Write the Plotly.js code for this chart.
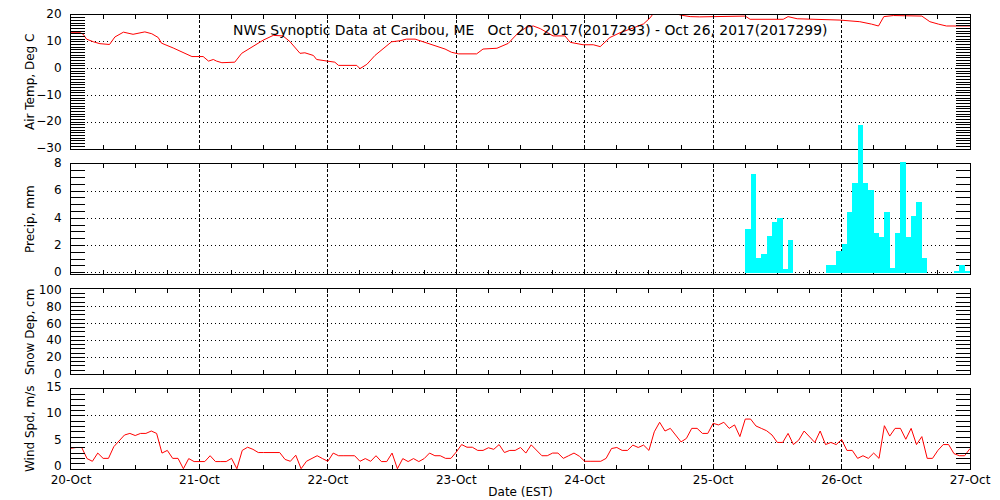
<!DOCTYPE html>
<html>
<head>
<meta charset="utf-8">
<script src="https://cdn.plot.ly/plotly-3.0.1.min.js"></script>
<style>html,body{margin:0;padding:0;background:#fff;}#chart{width:1000px;height:500px;}</style>
</head>
<body>
<div id="chart"></div>
<script>
// ---- Data (hours since 20-Oct-2017 00:00 EST) ----
const dayTickHours = [0, 24, 48, 72, 96, 120, 144, 168];
const dayTickLabels = ["20-Oct", "21-Oct", "22-Oct", "23-Oct", "24-Oct", "25-Oct", "26-Oct", "27-Oct"];

const tempHours = [0, 1.7, 2.3, 2.9, 4.2, 5.4, 7.2, 8.2, 9.8, 11.6, 13.8, 15.1, 16.3, 16.9, 19.1, 21, 22.6, 24.7, 25.7, 26.6, 27.2, 28.2, 30.6, 31.9, 34.1, 35.9, 37.8, 39.6, 40.9, 42.8, 43.7, 45.3, 45.9, 47.8, 49.3, 50, 53.4, 54, 55.3, 56.8, 58.4, 59.9, 61.5, 62.7, 64.3, 65.8, 67.1, 68.6, 69.9, 71.1, 72.4, 75.8, 77, 79.6, 81.7, 83.6, 85.2, 86.4, 87.7, 90.1, 92.3, 93.3, 95.7, 97.6, 98.9, 100.7, 102.6, 105.1, 107, 108.2, 108.8, 110, 112, 113.8, 115.7, 117.5, 120, 121.3, 126, 126.9, 133.1, 134, 135.7, 143.7, 147.4, 149.6, 150.9, 151.9, 153.7, 159, 160.5, 162.1, 163.6, 168];
const tempValues = [13.4, 13.4, 12.8, 11, 10, 9.3, 9.0, 11.8, 13.6, 12.8, 13.7, 13, 11.6, 9.5, 7.7, 6.1, 4.5, 4.5, 2.8, 3.4, 2.8, 2.2, 2.4, 5.7, 8.5, 10.6, 12.4, 12.2, 10.1, 5.7, 5.9, 4.9, 3.4, 2.8, 2.4, 1.2, 1.2, 0, 1.6, 4.9, 7.6, 10, 10.4, 11, 11, 10, 9.1, 8.2, 7.3, 6.1, 5.5, 5.5, 7.3, 7.6, 9.4, 13.4, 15.5, 15.9, 14.9, 12.2, 12.2, 9.8, 8.9, 8.9, 8.2, 11.6, 13.4, 15.2, 16.7, 18.9, 20.5, 22, 22, 20, 19.4, 19.3, 19.4, 19.6, 19.6, 18.4, 18.4, 19.4, 18.6, 18.1, 17.5, 16.6, 15.9, 19.4, 19.8, 19.6, 17.5, 16.6, 15.9, 15.9];

const precipHours = [126, 127, 128, 129, 130, 131, 132, 133, 134, 141, 142, 143, 144, 145, 146, 147, 148, 149, 150, 151, 152, 153, 154, 155, 156, 157, 158, 159, 165, 166, 167];
const precipValues = [3.2, 7.3, 1.1, 1.4, 2.7, 3.7, 4.0, 0.3, 2.4, 0.6, 0.6, 1.6, 2.1, 4.5, 6.6, 10.9, 6.6, 6.05, 2.9, 2.65, 4.5, 0.35, 2.9, 8.15, 2.65, 4.2, 5.2, 1.1, 0.1, 0.55, 0.1];

const snowHours = [];
const snowValues = [];

const windHours = [];
for (let h = 0; h <= 168; h++) windHours.push(h);
const windValues = [3.9, 4.05, 4.05, 1.96, 1.45, 3.0, 2.0, 2.0, 4.2, 5.25, 6.4, 6.7, 6.3, 6.7, 6.7, 7.15, 6.7, 3.0, 3.5, 2.0, 2.0, 0.05, 1.96, 1.4,
  1.4, 1.4, 2.5, 1.4, 1.4, 1.4, 2.0, 0.05, 3.5, 4.1, 3.7, 3.1, 3.1, 3.1, 3.1, 3.1, 1.8, 1.45, 2.6, 0.05, 1.45, 1.96, 2.5, 1.96,
  1.45, 3.0, 2.5, 2.5, 2.5, 2.5, 1.45, 1.96, 1.45, 2.5, 1.4, 1.4, 3.0, 0.05, 1.96, 1.4, 1.96, 1.4, 1.96, 3.0, 2.5, 2.5, 2.0, 2.0,
  3.2, 4.6, 4.1, 4.1, 3.5, 3.5, 4.0, 3.7, 4.6, 3.1, 3.5, 3.5, 4.05, 3.0, 4.55, 3.5, 2.5, 2.5, 3.0, 3.0, 2.0, 2.5, 3.0, 2.4,
  1.45, 1.45, 1.45, 1.45, 2.0, 3.85, 4.05, 3.5, 3.5, 4.5, 4.05, 4.5, 3.5, 7.0, 8.8, 7.15, 7.65, 6.3, 5.1, 5.75, 7.65, 7.65, 6.7, 6.7,
  8.6, 8.3, 8.8, 7.65, 8.3, 6.1, 9.4, 9.4, 8.1, 7.65, 7.2, 6.4, 5.0, 5.0, 6.7, 4.6, 5.45, 7.15, 6.1, 5.0, 7.15, 4.6, 5.0, 4.6,
  5.55, 3.5, 3.5, 2.0, 2.5, 2.0, 3.0, 2.0, 8.15, 6.2, 7.65, 7.65, 5.6, 7.65, 4.6, 6.1, 2.0, 2.0, 3.5, 4.6, 4.6, 2.9, 2.5, 2.5,
  3.85];

const titleText = "NWS Synoptic Data at Caribou, ME\u00a0\u00a0\u00a0Oct 20, 2017(2017293) - Oct 26, 2017(2017299)";
const panelTitles = ["Air Temp, Deg C", "Precip, mm", "Snow Dep, cm", "Wind Spd, m/s"];

// ---- Layout ----
const FONT = {family: "DejaVu Sans, sans-serif", size: 12, color: "#000"};
const H0 = 0, H1 = 168;

function xAxis(anchor, showLabels) {
  return {
    anchor: anchor, range: [H0, H1], domain: [0, 1],
    tickmode: "array", tickvals: dayTickHours, ticktext: dayTickLabels,
    showticklabels: showLabels, ticks: "inside", ticklen: 4, tickcolor: "#000",
    minor: {dtick: 6, tick0: 0, ticks: "inside", ticklen: 4, tickcolor: "#000", showgrid: false},
    showline: true, linecolor: "#000", linewidth: 1, mirror: "allticks",
    showgrid: true, gridcolor: "#000", gridwidth: 1, griddash: "3px,2px",
    zeroline: false, tickfont: FONT, ticklabelstandoff: 0
  };
}
function yAxis(anchor, domain, range, dtick, minorDtick, shift) {
  return {
    anchor: anchor, domain: domain, range: range, dtick: dtick, tick0: 0,
    ticks: "inside", ticklen: 14, tickcolor: "#000",
    minor: {dtick: minorDtick, tick0: 0, ticks: "inside", ticklen: 14, tickcolor: "#000", showgrid: false},
    showline: true, linecolor: "#000", linewidth: 1, mirror: "allticks",
    showgrid: true, gridcolor: "#000", gridwidth: 1, griddash: "1px,3px",
    zeroline: false, tickfont: FONT, ticklabelstandoff: 6, ticklabelshift: shift || 0
  };
}

const dTemp = [0.7048, 1.0];
const dPrecip = [0.4295, 0.6718];
const dSnow = [0.2086, 0.3958];
const dWind = [0.0, 0.1755];
const precipMin = -0.096, precipMax = 8;
// overflow axis for precip bars (same scale, taller domain so tall bars are not cut)
const overTop = 0.7797;
const precipOverMax = precipMin + (precipMax - precipMin) * (overTop - dPrecip[0]) / (dPrecip[1] - dPrecip[0]);

const traces = [
  {x: tempHours, y: tempValues, xaxis: "x4", yaxis: "y4", type: "scatter", mode: "lines",
   line: {color: "#ff0000", width: 1}},
  {x: [], y: [], xaxis: "x3", yaxis: "y3", type: "scatter", mode: "lines"},
  {x: precipHours, y: precipValues, xaxis: "x5", yaxis: "y5", type: "bar",
   offset: 0, width: 1, marker: {color: "#00ffff", line: {width: 0}}},
  {x: snowHours, y: snowValues, xaxis: "x2", yaxis: "y2", type: "scatter", mode: "lines",
   line: {color: "#ff0000", width: 1}},
  {x: windHours, y: windValues, xaxis: "x", yaxis: "y", type: "scatter", mode: "lines",
   line: {color: "#ff0000", width: 1}}
];

const pxToPaperX = (px) => (px - 71) / 899;
const pxToPaperY = (py) => (469 - py) / 454;

const layout = {
  width: 1000, height: 500,
  margin: {l: 71, r: 30, t: 15, b: 31, pad: 0},
  paper_bgcolor: "#fff", plot_bgcolor: "rgba(0,0,0,0)",
  showlegend: false, bargap: 0, font: FONT,
  xaxis: Object.assign(xAxis("y", true), {title: {text: "Date (EST)", font: FONT, standoff: 1}}),
  yaxis: yAxis("x", dWind, [0, 15], 5, 1, -3),
  xaxis2: Object.assign(xAxis("y2", false), {matches: "x"}),
  yaxis2: yAxis("x2", dSnow, [0, 100], 20, 5, 0),
  xaxis3: Object.assign(xAxis("y3", false), {matches: "x"}),
  yaxis3: yAxis("x3", dPrecip, [precipMin, precipMax], 2, 0.5, -1),
  xaxis4: Object.assign(xAxis("y4", false), {matches: "x"}),
  yaxis4: yAxis("x4", dTemp, [-30, 20], 10, 1, -1),
  xaxis5: {anchor: "y5", matches: "x", range: [H0, H1], domain: [0, 1], visible: false, showgrid: false, zeroline: false},
  yaxis5: {anchor: "x5", domain: [dPrecip[0], overTop], range: [precipMin, precipOverMax], visible: false, showgrid: false, zeroline: false},
  annotations: [
    {text: titleText, xref: "paper", yref: "paper", x: pxToPaperX(530), y: pxToPaperY(30),
     xanchor: "center", yanchor: "middle", showarrow: false, font: {family: FONT.family, size: 13.9, color: "#000"}}
  ].concat(panelTitles.map((t, i) => {
    const centers = [82, 219, 332, 429];
    return {text: t, xref: "paper", yref: "paper", x: pxToPaperX(30), y: pxToPaperY(centers[i]),
      xanchor: "center", yanchor: "middle", textangle: -90, showarrow: false, font: FONT};
  }))
};

Plotly.newPlot("chart", traces, layout, {staticPlot: true, displayModeBar: false});
</script>
</body>
</html>
